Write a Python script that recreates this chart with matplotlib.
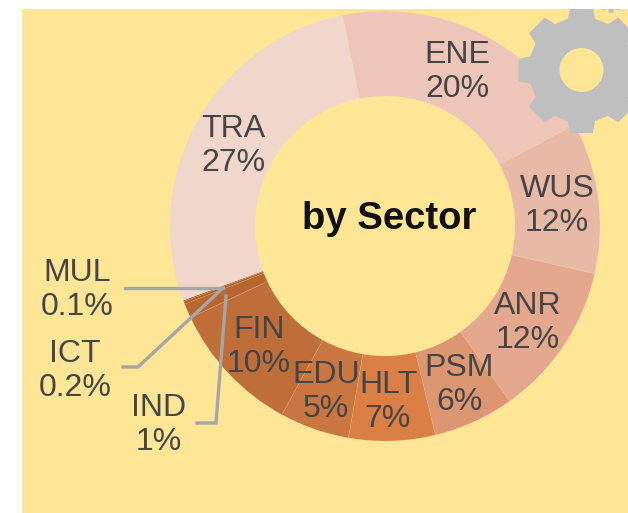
import matplotlib
matplotlib.use('Agg')
import matplotlib.pyplot as plt
from matplotlib.patches import Rectangle, Polygon, Circle
import numpy as np

plt.rcParams['font.family'] = ['Liberation Sans', 'DejaVu Sans']

sectors = ['ENE', 'WUS', 'ANR', 'PSM', 'HLT', 'EDU', 'FIN', 'IND', 'ICT', 'MUL', 'TRA']
# slice sizes as measured off the ring, printed labels are the rounded ones
shares = [20.4, 11.4, 11.6, 6.1, 6.5, 5.25, 10.05, 1.1, 0.2, 0.1, 27.5]
share_labels = ['20%', '12%', '12%', '6%', '7%', '5%', '10%', '1%', '0.2%', '0.1%', '27%']
colors = ['#EDC5B9', '#E9B9A7', '#E3A88E', '#DD9672', '#DA7F45', '#CA7642',
          '#BF6E39', '#B86631', '#A9602E', '#A9602E', '#F0D6CB']

BG = '#FEE696'
TXT = '#454545'
LINE = '#A6A6A6'
H = 513


def y(v):
    return H - v


# gear made of teeth around a centre
def gear_points(cx, cy, r_out, r_in, teeth=8):
    pts = []
    step = 360 / teeth
    for i in range(teeth):
        a = i * step
        for da, r in [(-15, r_in), (-10, r_out), (10, r_out), (15, r_in)]:
            t = np.radians(a + da)
            pts.append((cx + r * np.cos(t), y(cy) + r * np.sin(t)))
    return pts


fig = plt.figure(figsize=(6.28, 5.13), dpi=100, facecolor='white')
ax = fig.add_axes([0, 0, 1, 1])

ax.add_patch(Rectangle((22, 0), 606, y(9), facecolor=BG, edgecolor='none', zorder=0))

ax.pie(shares, colors=colors, startangle=101.4, counterclock=False,
       center=(385, y(226)), radius=215,
       wedgeprops=dict(width=85, linewidth=0.3, edgecolor=(1, 0.9, 0.7, 0.3)),
       frame=True)

# gear on top of the ring, clipped by the panel
clip = Rectangle((22, 0), 606, y(9), transform=ax.transData)
gear = Polygon(gear_points(581.5, 70, 64, 53), closed=True,
               facecolor='#BFBFBF', edgecolor='none', zorder=3)
ax.add_patch(gear)
gear.set_clip_path(clip)
ax.add_patch(Circle((581.5, y(70)), 22, facecolor=BG, edgecolor='none', zorder=4))
small = Polygon(gear_points(611, 0, 13, 10), closed=True,
                facecolor='#BFBFBF', edgecolor='none', zorder=3)
ax.add_patch(small)
small.set_clip_path(clip)

# label centres, in picture pixels
label_pos = {'ENE': (457, 72), 'WUS': (557, 206), 'ANR': (528, 323), 'PSM': (459, 385),
             'HLT': (388, 402), 'EDU': (326, 392), 'FIN': (259, 347), 'IND': (159, 425),
             'ICT': (75, 371), 'MUL': (77, 290), 'TRA': (233, 146)}
for name, pct in zip(sectors, share_labels):
    px, py = label_pos[name]
    ax.text(px, y(py), name + '\n' + pct, ha='center', va='center', fontsize=23,
            color=TXT, linespacing=1.17, zorder=6)

ax.text(389.5, y(219), 'by Sector', ha='center', va='center', fontsize=27.5,
        fontweight='bold', color='#111111', zorder=6)

# leader lines
leaders = [[(125, 288), (223, 288)],
           [(123, 367), (138, 367), (223, 288)],
           [(197, 423), (216, 423), (226, 296)]]
for pts in leaders:
    ax.plot([p[0] for p in pts], [y(p[1]) for p in pts], color=LINE, lw=2.4,
            solid_joinstyle='miter', zorder=5)

ax.set_xlim(0, 628)
ax.set_ylim(0, 513)
ax.set_aspect('auto')
ax.axis('off')
fig.savefig('out.png', dpi=100, facecolor='white')
